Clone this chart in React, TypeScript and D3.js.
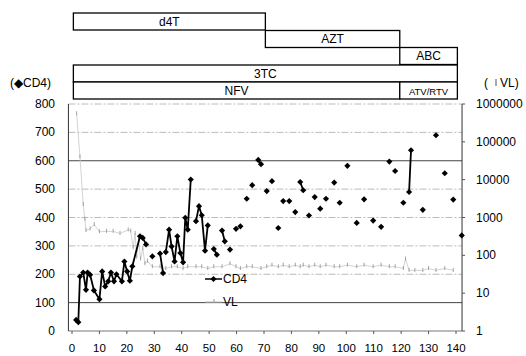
import * as d3 from "d3";
import React from "react";

// weeks and CD4 counts (null = break in the line)
const cd4Weeks = [
  1.5, 2.3, 2.9, 4.1, 5.1, 5.7, 6.6, 8.0, 10.0, 11.0, 12.1, 13.2, 14.2, 15.3, 16.2, 18.2, 19.1,
  20.1, 21.1, 22.0, 24.8, 25.8, 27.0, 28.2, 29.3, 30.7, 32.1, 33.2, 33.2, 34.2, 35.4, 36.3, 37.4,
  38.4, 39.5, 40.5, 41.3, 42.2, 43.3, 44.2, 45.2, 46.3, 47.3, 48.5, 49.5, 50.6, 51.7, 52.8, 53.7,
  54.7, 55.7, 56.6, 57.6, 58.7, 59.8, 60.6, 61.4, 62.5, 63.7, 64.7, 65.7, 66.8, 67.9, 68.9, 70.0,
  71.0, 72.0, 72.9, 74.0, 75.2, 76.1, 77.0, 78.1, 79.2, 80.3, 81.4, 82.3, 83.2, 84.3, 85.3, 86.4,
  87.4, 88.5, 89.5, 90.5, 91.5, 92.6, 94.1, 95.6, 96.6, 97.6, 99.0, 100.4, 102.1, 103.8, 105.1,
  106.5, 108.1, 109.8, 111.2, 112.7, 114.2, 115.7, 116.7, 117.8, 119.3, 120.8, 121.8, 122.9,
  123.6, 125.7, 127.9, 130.3, 132.7, 134.3, 135.9, 137.4, 139.0, 140.5, 142.1,
];
const cd4Counts = [
  39, 31, 192, 206, 145, 206, 198, 143, 112, 210, 157, 175, 206, 175, 200, 175, 245,
  210, 177, 228, 334, 328, 305, null, 263, null, 273, 204, null, 278, 357, 298, 245,
  334, 275, 242, 399, 357, 534, null, 387, 440, 408, 283, 372, null, 289, 269, null,
  354, 316, null, 287, null, 360, null, 369, null, 466, null, 514, null, 603, 588, null,
  493, null, 528, null, 363, null, 458, null, 458, null, 419, null, 525, 496, null, 407,
  null, 472, null, 431, null, 466, null, 523, null, 452, null, 582, null, 381, null,
  464, null, 389, null, 367, null, 597, null, 564, null, 452, null, 490,
  637, null, 427, null, 690, null, 556, null, 463, null, 337,
];

// viral load (copies/mL)
const vlWeeks = [
  1.7, 2.9, 4.1, 4.7, 5.1, 6.6, 8.1, 10.0, 12.6, 15.0, 17.5, 20.5, 21.4, 22.3, 23.0, 23.6, 24.3,
  25.0, 25.8, 26.6, 27.5, 29.3, 32.1, 34.2, 36.3, 38.4, 40.5, 42.2, 45.2, 47.3, 49.5, 51.7, 54.7,
  57.6, 59.8, 61.4, 63.7, 65.7, 68.9, 71.0, 72.9, 75.2, 77.0, 79.2, 81.4, 83.2, 84.3, 86.4, 88.5,
  90.5, 92.6, 95.6, 97.6, 100.4, 103.8, 106.5, 109.8, 112.7, 115.7, 117.8, 120.8, 121.6, 122.9,
  125.0, 127.9, 130.0, 132.7, 135.9, 139.0,
];
const vlCopies = [
  550000, 40000, 2200, 900, 450, 500, 650, 420, 430, 430, 380, 470, 440, 160, 380, 90, 250,
  80, 150, 60, 70, 50, 50, 45, 50, 50, 45, 50, 50, 50, 45, 50, 50,
  60, 50, 45, 50, 50, 45, 50, 55, 50, 55, 50, 55, 50, 55, 50, 55,
  50, 55, 50, 50, 55, 50, 55, 50, 55, 50, 50, 45, 80, 40,
  40, 40, 45, 40, 45, 40,
];

// treatment bars
const drugNames = ["d4T", "AZT", "ABC", "3TC", "NFV", "ATV/RTV"];
const drugStart = [0.5, 70.5, 119.5, 0.5, 0.5, 119.5];
const drugEnd = [70.5, 119.5, 140.5, 140.5, 119.5, 140.5];
const drugRow = [0, 1, 2, 3, 4, 4];

const xTicks = [0, 10, 20, 30, 40, 50, 60, 70, 80, 90, 100, 110, 120, 130, 140];
const cd4Ticks = [0, 100, 200, 300, 400, 500, 600, 700, 800];
const vlTicks = [1, 10, 100, 1000, 10000, 100000, 1000000];

const W = 526;
const H = 356;
const font = "'Liberation Sans', Arial, sans-serif";

export default function App() {
  const x = d3.scaleLinear().domain([0, 140]).range([72, 456]);
  const yL = d3.scaleLinear().domain([0, 800]).range([331, 104]);
  const yR = d3.scaleLog().domain([1, 1e6]).range([331, 104]);
  const left = x(-1.3);
  const right = x(142.2);

  const cd4 = cd4Weeks.map((w, i) => ({ w, v: cd4Counts[i] }));
  const cd4Line = d3
    .line<{ w: number; v: number | null }>()
    .defined((d) => d.v != null)
    .x((d) => x(d.w))
    .y((d) => yL(d.v as number));

  const vl = vlWeeks.map((w, i) => ({ w, v: vlCopies[i] }));
  const vlLine = d3
    .line<{ w: number; v: number }>()
    .x((d) => x(d.w))
    .y((d) => yR(d.v));

  const diamond = d3.symbol(d3.symbolSquare, 19)()!;
  const rowTop = [13, 30.5, 47.5, 65, 82];
  const rowH = 17;

  return (
    <svg
      width={W}
      height={H}
      style={{ position: "absolute", left: 0, top: 0, background: "#fff" }}
      fontFamily={font}
    >
      {/* treatment boxes */}
      {drugNames.map((n, i) => {
        const x0 = x(drugStart[i]);
        const x1 = x(drugEnd[i]);
        const y0 = rowTop[drugRow[i]];
        return (
          <g key={n}>
            <rect x={x0} y={y0} width={x1 - x0} height={rowH} fill="#fff" stroke="#000" strokeWidth={1.3} />
            <text
              x={(x0 + x1) / 2}
              y={y0 + rowH / 2 + 4}
              textAnchor="middle"
              fontSize={n === "ATV/RTV" ? 9.5 : 12}
            >
              {n}
            </text>
          </g>
        );
      })}

      {/* axis titles */}
      <text x={10} y={87} fontSize={12}>(◆CD4)</text>
      <text x={484} y={87} fontSize={12}>(</text>
      <line x1={496} x2={496} y1={79} y2={86} stroke="#555" strokeWidth={1} />
      <text x={500} y={87} fontSize={12}>VL)</text>

      {/* grid */}
      {cd4Ticks.slice(1).map((t) => (
        <line
          key={t}
          x1={left}
          x2={right}
          y1={yL(t)}
          y2={yL(t)}
          stroke={t === 100 || t === 600 ? "#444" : "#aaa"}
          strokeWidth={t === 100 || t === 600 ? 1 : 0.8}
          strokeDasharray={t === 100 || t === 600 ? undefined : "7,2,2,2"}
        />
      ))}
      <line x1={left} x2={right} y1={yL(0)} y2={yL(0)} stroke="#777" strokeWidth={1} />
      <line x1={left} x2={left} y1={yL(800)} y2={yL(0)} stroke="#333" strokeWidth={1} />
      <line x1={right} x2={right} y1={yL(800)} y2={yL(0)} stroke="#333" strokeWidth={1} />

      {/* x ticks */}
      {xTicks.map((t) => (
        <g key={t}>
          <line x1={x(t)} x2={x(t)} y1={yL(0)} y2={yL(0) + 3} stroke="#555" />
          <text x={x(t)} y={352} textAnchor="middle" fontSize={11.5}>
            {t}
          </text>
        </g>
      ))}

      {/* left ticks */}
      {cd4Ticks.map((t) => (
        <text key={t} x={55} y={yL(t) + 4} textAnchor="end" fontSize={12}>
          {t}
        </text>
      ))}

      {/* right ticks */}
      {vlTicks.map((t) => (
        <g key={t}>
          <line x1={right} x2={right + 3} y1={yR(t)} y2={yR(t)} stroke="#555" />
          <text x={476} y={yR(t) + 4} fontSize={12}>
            {t}
          </text>
        </g>
      ))}

      {/* VL series */}
      <path d={vlLine(vl) ?? ""} fill="none" stroke="#c8c8c8" strokeWidth={0.8} />
      {vl.map((d, i) => (
        <line
          key={i}
          x1={x(d.w)}
          x2={x(d.w)}
          y1={yR(d.v) - 2.5}
          y2={yR(d.v) + 1.5}
          stroke="#999"
          strokeWidth={0.9}
        />
      ))}

      {/* CD4 series */}
      <path d={cd4Line(cd4) ?? ""} fill="none" stroke="#000" strokeWidth={1.8} />
      {cd4
        .filter((d) => d.v != null)
        .map((d, i) => (
          <path
            key={i}
            d={diamond}
            transform={`translate(${x(d.w)},${yL(d.v as number)}) rotate(45)`}
            fill="#000"
          />
        ))}

      {/* legend */}
      <line x1={205} x2={222} y1={279} y2={279} stroke="#000" strokeWidth={1.5} />
      <path d={diamond} transform="translate(213.5,279) rotate(45)" fill="#000" />
      <text x={223} y={283} fontSize={12}>CD4</text>
      <line x1={205} x2={222} y1={302} y2={302} stroke="#bbb" strokeWidth={1} />
      <line x1={214} x2={214} y1={299} y2={303} stroke="#999" />
      <text x={223} y={306} fontSize={12}>VL</text>
    </svg>
  );
}
